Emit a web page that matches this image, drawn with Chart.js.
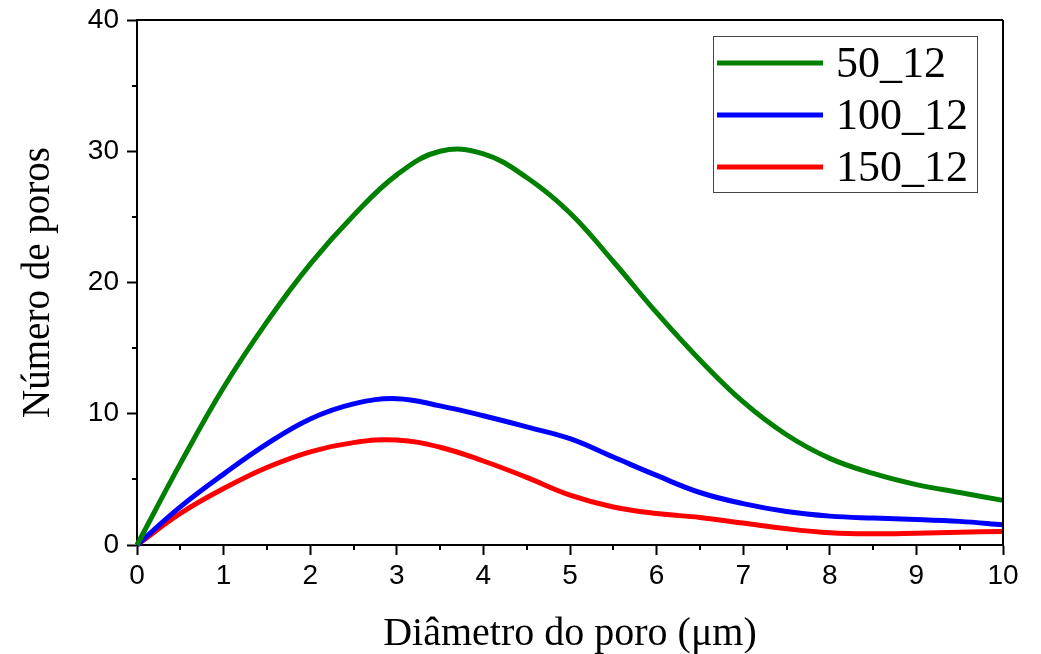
<!DOCTYPE html>
<html>
<head>
<meta charset="utf-8">
<script src="https://cdn.jsdelivr.net/npm/chart.js@4"></script>
<style>
  html, body { margin: 0; padding: 0; background: #fff; }
  #wrap { width: 1041px; height: 654px; }
</style>
</head>
<body>
<div id="wrap"><canvas id="poreChart" width="1041" height="654"></canvas></div>
<script>
// Pore diameter (um)
const diameters = [0, 0.5, 1, 1.5, 2, 2.5, 3, 3.5, 4, 4.5, 5, 5.5, 6, 6.5, 7, 7.5, 8, 8.5, 9, 9.5, 10];

// Number of pores per sample
const series50 = [0, 6.2, 12.0, 17.0, 21.4, 25.1, 28.2, 30.0, 29.8, 28.0, 25.3, 21.6, 17.7, 14.1, 10.9, 8.4, 6.6, 5.45, 4.6, 4.0, 3.4];
const series100 = [0, 2.9, 5.4, 7.7, 9.6, 10.75, 11.15, 10.6, 9.85, 9.0, 8.1, 6.7, 5.3, 4.0, 3.15, 2.55, 2.2, 2.05, 1.95, 1.8, 1.55];
const series150 = [0, 2.4, 4.3, 5.9, 7.1, 7.8, 8.0, 7.45, 6.4, 5.15, 3.8, 2.9, 2.4, 2.1, 1.67, 1.24, 0.93, 0.85, 0.9, 0.98, 1.03];

const seriesLabels = ['50_12', '100_12', '150_12'];
const seriesColors = ['#008000', '#0000ff', '#ff0000'];

const xTicks = [0, 1, 2, 3, 4, 5, 6, 7, 8, 9, 10];
const yTicks = [0, 10, 20, 30, 40];

function toPoints(values) {
    return values.map((v, i) => ({ x: diameters[i], y: v }));
}

// minor ticks, top/right frame and the boxed legend
const framePlugin = {
    id: 'frame',
    afterDraw(chart) {
        const ctx = chart.ctx;
        const area = chart.chartArea;
        const xs = chart.scales.x;
        const ys = chart.scales.y;
        ctx.save();
        ctx.strokeStyle = '#000';
        ctx.lineWidth = 2;
        ctx.beginPath();
        ctx.moveTo(area.left, area.top);
        ctx.lineTo(area.right, area.top);
        ctx.moveTo(area.right, area.top);
        ctx.lineTo(area.right, area.bottom);
        // minor ticks
        for (let v = 0.5; v < 10; v += 1) {
            const px = Math.round(xs.getPixelForValue(v));
            ctx.moveTo(px, area.bottom);
            ctx.lineTo(px, area.bottom + 5);
        }
        for (let v = 5; v < 40; v += 10) {
            const py = Math.round(ys.getPixelForValue(v));
            ctx.moveTo(area.left, py);
            ctx.lineTo(area.left - 5, py);
        }
        ctx.stroke();

        // legend
        const boxX = area.right - 290;
        const boxY = area.top + 16;
        ctx.lineWidth = 1;
        ctx.strokeStyle = '#444';
        ctx.strokeRect(boxX + 0.5, boxY + 0.5, 264, 156);
        ctx.font = '44px "Liberation Serif", "Times New Roman", serif';
        ctx.textBaseline = 'middle';
        ctx.fillStyle = '#000';
        chart.data.datasets.forEach((ds, i) => {
            const cy = boxY + 27 + i * 52;
            ctx.strokeStyle = ds.borderColor;
            ctx.lineWidth = 5;
            ctx.beginPath();
            ctx.moveTo(boxX + 4, cy);
            ctx.lineTo(boxX + 110, cy);
            ctx.stroke();
            ctx.fillText(ds.label, boxX + 123, cy + 2);
        });
        ctx.restore();
    }
};

const ctx = document.getElementById('poreChart');

new Chart(ctx, {
    type: 'line',
    data: {
        datasets: [
            { label: seriesLabels[0], data: toPoints(series50), borderColor: seriesColors[0] },
            { label: seriesLabels[1], data: toPoints(series100), borderColor: seriesColors[1] },
            { label: seriesLabels[2], data: toPoints(series150), borderColor: seriesColors[2] }
        ]
    },
    options: {
        responsive: false,
        animation: false,
        layout: { padding: { top: 20, right: 38, left: 0, bottom: 0 } },
        elements: {
            line: { borderWidth: 5, tension: 0.4, fill: false },
            point: { radius: 0 }
        },
        datasets: { line: { clip: false } },
        plugins: {
            legend: { display: false },
            tooltip: { enabled: false }
        },
        scales: {
            x: {
                type: 'linear',
                min: 0,
                max: 10,
                afterBuildTicks: axis => { axis.ticks = xTicks.map(v => ({ value: v })); },
                afterFit: axis => { axis.height = 109; axis.paddingLeft = 0; axis.paddingRight = 0; },
                border: { color: '#000', width: 2 },
                grid: { drawOnChartArea: false, tickLength: 10, tickWidth: 2, tickColor: '#000' },
                ticks: {
                    color: '#000',
                    padding: 4,
                    maxRotation: 0,
                    font: { family: '"Liberation Sans", Arial, sans-serif', size: 28 }
                },
                title: {
                    display: true,
                    text: 'Diâmetro do poro (μm)',
                    color: '#000',
                    padding: { top: 0, bottom: 0 },
                    font: { family: '"Liberation Serif", "Times New Roman", serif', size: 40, lineHeight: 1.0 }
                }
            },
            y: {
                min: 0,
                max: 40,
                afterBuildTicks: axis => { axis.ticks = yTicks.map(v => ({ value: v })); },
                afterFit: axis => { axis.width = 137; axis.paddingTop = 0; axis.paddingBottom = 0; },
                border: { color: '#000', width: 2 },
                grid: { drawOnChartArea: false, tickLength: 10, tickWidth: 2, tickColor: '#000' },
                ticks: {
                    color: '#000',
                    padding: 8,
                    font: { family: '"Liberation Sans", Arial, sans-serif', size: 28 }
                },
                title: {
                    display: true,
                    text: 'Número de poros',
                    color: '#000',
                    padding: { top: 15, bottom: 0 },
                    font: { family: '"Liberation Serif", "Times New Roman", serif', size: 39 }
                }
            }
        }
    },
    plugins: [framePlugin]
});
</script>
</body>
</html>
